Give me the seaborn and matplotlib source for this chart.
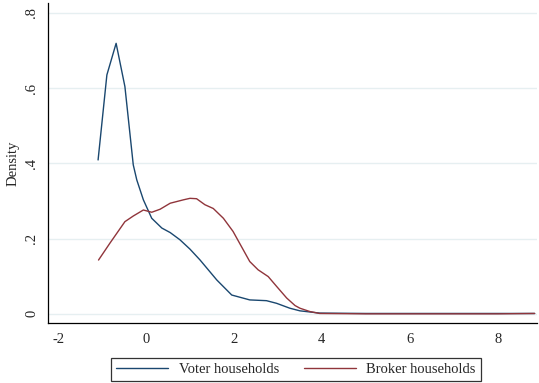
import pandas as pd
import seaborn as sns
import matplotlib
matplotlib.use("Agg")
import matplotlib.pyplot as plt

# Density curves (x = value, y = density)
voter_x = [-1.09, -0.89, -0.68, -0.48, -0.29, -0.21, -0.06, 0.13, 0.36, 0.55, 0.77,
           1.00, 1.23, 1.61, 1.95, 2.36, 2.74, 2.97, 3.27, 3.50, 3.95, 5.0, 6.0, 7.0, 8.0, 8.84]
voter_y = [0.409, 0.635, 0.719, 0.604, 0.396, 0.356, 0.303, 0.254, 0.228, 0.216, 0.197,
           0.172, 0.143, 0.090, 0.050, 0.037, 0.035, 0.028, 0.015, 0.008, 0.002, 0.001, 0.001, 0.001, 0.001, 0.001]

broker_x = [-1.08, -0.82, -0.48, -0.29, -0.06, 0.13, 0.32, 0.55, 0.85, 1.00, 1.15, 1.34,
            1.53, 1.76, 1.98, 2.17, 2.36, 2.55, 2.78, 2.97, 3.20, 3.39, 3.50, 3.73, 3.95,
            5.0, 6.0, 7.0, 8.0, 8.84]
broker_y = [0.143, 0.188, 0.245, 0.260, 0.276, 0.270, 0.278, 0.294, 0.303, 0.307, 0.306, 0.290,
            0.280, 0.254, 0.219, 0.179, 0.139, 0.117, 0.099, 0.073, 0.042, 0.022, 0.015, 0.006, 0.001,
            0.0, 0.0, 0.0, 0.0, 0.001]

x_ticks = [-2, 0, 2, 4, 6, 8]
y_ticks = [0, 0.2, 0.4, 0.6, 0.8]
y_labels = ["0", ".2", ".4", ".6", ".8"]
series_names = ["Voter households", "Broker households"]

df = pd.concat([
    pd.DataFrame({"x": voter_x, "density": voter_y, "group": series_names[0]}),
    pd.DataFrame({"x": broker_x, "density": broker_y, "group": series_names[1]}),
])

sns.set_style("white")
plt.rcParams["font.family"] = ["Liberation Serif", "DejaVu Serif"]
FS = 10.5

fig = plt.figure(figsize=(5.39, 3.83), dpi=100)
ax = fig.add_axes([0.089, 0.157, 0.907, 0.835])

sns.lineplot(data=df, x="x", y="density", hue="group", palette=["#1a476f", "#90353b"],
             linewidth=1.0, sort=False, estimator=None, ax=ax)

ax.set_xlim(-2.23, 8.89)
ax.set_ylim(-0.024, 0.826)
ax.set_xticks(x_ticks)
ax.set_xticklabels([str(t) for t in x_ticks], fontsize=FS)
ax.set_yticks(y_ticks)
ax.set_yticklabels(y_labels, fontsize=FS, rotation=90, va="center")
ax.set_xlabel("")
ax.set_ylabel("Density", fontsize=FS)
ax.yaxis.grid(True, color="#e6eff1", linewidth=1.0)
ax.set_axisbelow(True)

for side in ["top", "right"]:
    ax.spines[side].set_visible(False)
for side in ["left", "bottom"]:
    ax.spines[side].set_color("black")
    ax.spines[side].set_linewidth(0.9)
ax.tick_params(axis="both", direction="out", length=4, width=0.8, color="black", pad=3)

handles, labels = ax.get_legend_handles_labels()
ax.get_legend().remove()
leg = fig.legend(handles, labels, loc="lower center", bbox_to_anchor=(0.549, 0.005), ncol=2,
                 fontsize=FS, frameon=True, fancybox=False, edgecolor="black",
                 handlelength=3.6, columnspacing=1.7, borderpad=0.35, handletextpad=0.7,
                 borderaxespad=0.0)
leg.get_frame().set_linewidth(0.9)

fig.savefig("out.png", dpi=100, facecolor="white")
